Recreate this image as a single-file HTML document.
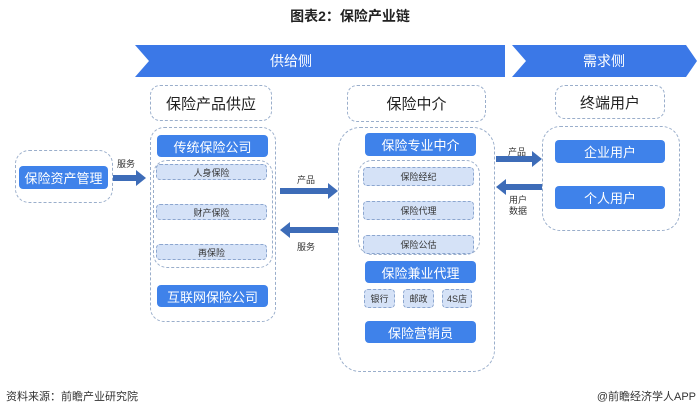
<!DOCTYPE html>
<html><head><meta charset="utf-8"><style>
body{margin:0;width:700px;height:414px;background:#fff;position:relative;overflow:hidden;font-family:"Liberation Sans","Noto Sans CJK SC",sans-serif;}
.a{position:absolute;box-sizing:border-box;}
.d{border:1.5px dashed #9aaecb;border-radius:14px;}
.h{border:1.5px dashed #9aaecb;border-radius:10px;display:flex;align-items:center;justify-content:center;font-size:15px;color:#222;}
.b{background:#3f82ea;color:#fff;border-radius:4px;display:flex;align-items:center;justify-content:center;font-size:13px;}
.l{background:#d5e2f7;border:1.5px dashed #8ca6cf;border-radius:4px;display:flex;align-items:center;justify-content:center;font-size:9px;color:#333;}
.t{font-size:9px;color:#333;}
</style></head><body>
<div class="a" style="left:0;top:6px;width:700px;text-align:center;font-weight:bold;font-size:14px;color:#222">图表2：保险产业链</div>
<svg class="a" style="left:0;top:0" width="700" height="414">
<polygon points="135,45 505,45 505,77 135,77 149,61" fill="#3b78e7"/>
<polygon points="512,45 686,45 697,61 686,77 512,77 526,61" fill="#3b78e7"/>
<g fill="#3d6cb8">
<polygon points="113,175 136,175 136,170 146,178 136,186 136,181 113,181"/>
<polygon points="280,188 328,188 328,183 338,191 328,199 328,194 280,194"/>
<polygon points="338,227 290,227 290,222 280,230 290,238 290,233 338,233"/>
<polygon points="496,156 532,156 532,151 542,159 532,167 532,162 496,162"/>
<polygon points="542,184 506,184 506,179 496,187 506,195 506,190 542,190"/>
</g>
</svg>
<div class="a" style="left:270px;top:51px;color:#fff;font-size:14px">供给侧</div>
<div class="a" style="left:583px;top:51px;color:#fff;font-size:14px">需求侧</div>

<div class="a h" style="left:150px;top:85px;width:122px;height:36px">保险产品供应</div>
<div class="a d" style="left:150px;top:127px;width:126px;height:195px"></div>
<div class="a b" style="left:157px;top:135px;width:111px;height:22px">传统保险公司</div>
<div class="a d" style="left:153px;top:160px;width:120px;height:108px"></div>
<div class="a l" style="left:156px;top:164px;width:111px;height:16px">人身保险</div>
<div class="a l" style="left:156px;top:204px;width:111px;height:16px">财产保险</div>
<div class="a l" style="left:156px;top:244px;width:111px;height:16px">再保险</div>
<div class="a b" style="left:157px;top:285px;width:111px;height:22px">互联网保险公司</div>

<div class="a d" style="left:15px;top:150px;width:98px;height:53px"></div>
<div class="a b" style="left:19px;top:166px;width:89px;height:23px">保险资产管理</div>
<div class="a t" style="left:117px;top:157px">服务</div>
<div class="a t" style="left:297px;top:173px">产品</div>
<div class="a t" style="left:297px;top:240px">服务</div>

<div class="a h" style="left:347px;top:85px;width:139px;height:37px">保险中介</div>
<div class="a d" style="left:338px;top:127px;width:157px;height:245px;border-radius:22px"></div>
<div class="a b" style="left:365px;top:133px;width:111px;height:23px">保险专业中介</div>
<div class="a d" style="left:358px;top:160px;width:122px;height:95px"></div>
<div class="a l" style="left:363px;top:167px;width:111px;height:19px">保险经纪</div>
<div class="a l" style="left:363px;top:201px;width:111px;height:19px">保险代理</div>
<div class="a l" style="left:363px;top:235px;width:111px;height:19px">保险公估</div>
<div class="a b" style="left:365px;top:261px;width:111px;height:22px">保险兼业代理</div>
<div class="a l" style="left:364px;top:289px;width:31px;height:19px">银行</div>
<div class="a l" style="left:403px;top:289px;width:31px;height:19px">邮政</div>
<div class="a l" style="left:442px;top:289px;width:30px;height:19px">4S店</div>
<div class="a b" style="left:365px;top:321px;width:111px;height:22px">保险营销员</div>

<div class="a t" style="left:508px;top:145px">产品</div>
<div class="a t" style="left:509px;top:195px;line-height:11px">用户<br>数据</div>

<div class="a h" style="left:555px;top:85px;width:110px;height:34px">终端用户</div>
<div class="a d" style="left:542px;top:126px;width:138px;height:105px;border-radius:18px"></div>
<div class="a b" style="left:555px;top:140px;width:110px;height:23px">企业用户</div>
<div class="a b" style="left:555px;top:186px;width:110px;height:23px">个人用户</div>

<div class="a" style="left:6px;top:388px;font-size:11px;color:#333">资料来源：前瞻产业研究院</div>
<div class="a" style="right:4px;top:388px;font-size:11px;color:#333">@前瞻经济学人APP</div>
</body></html>
